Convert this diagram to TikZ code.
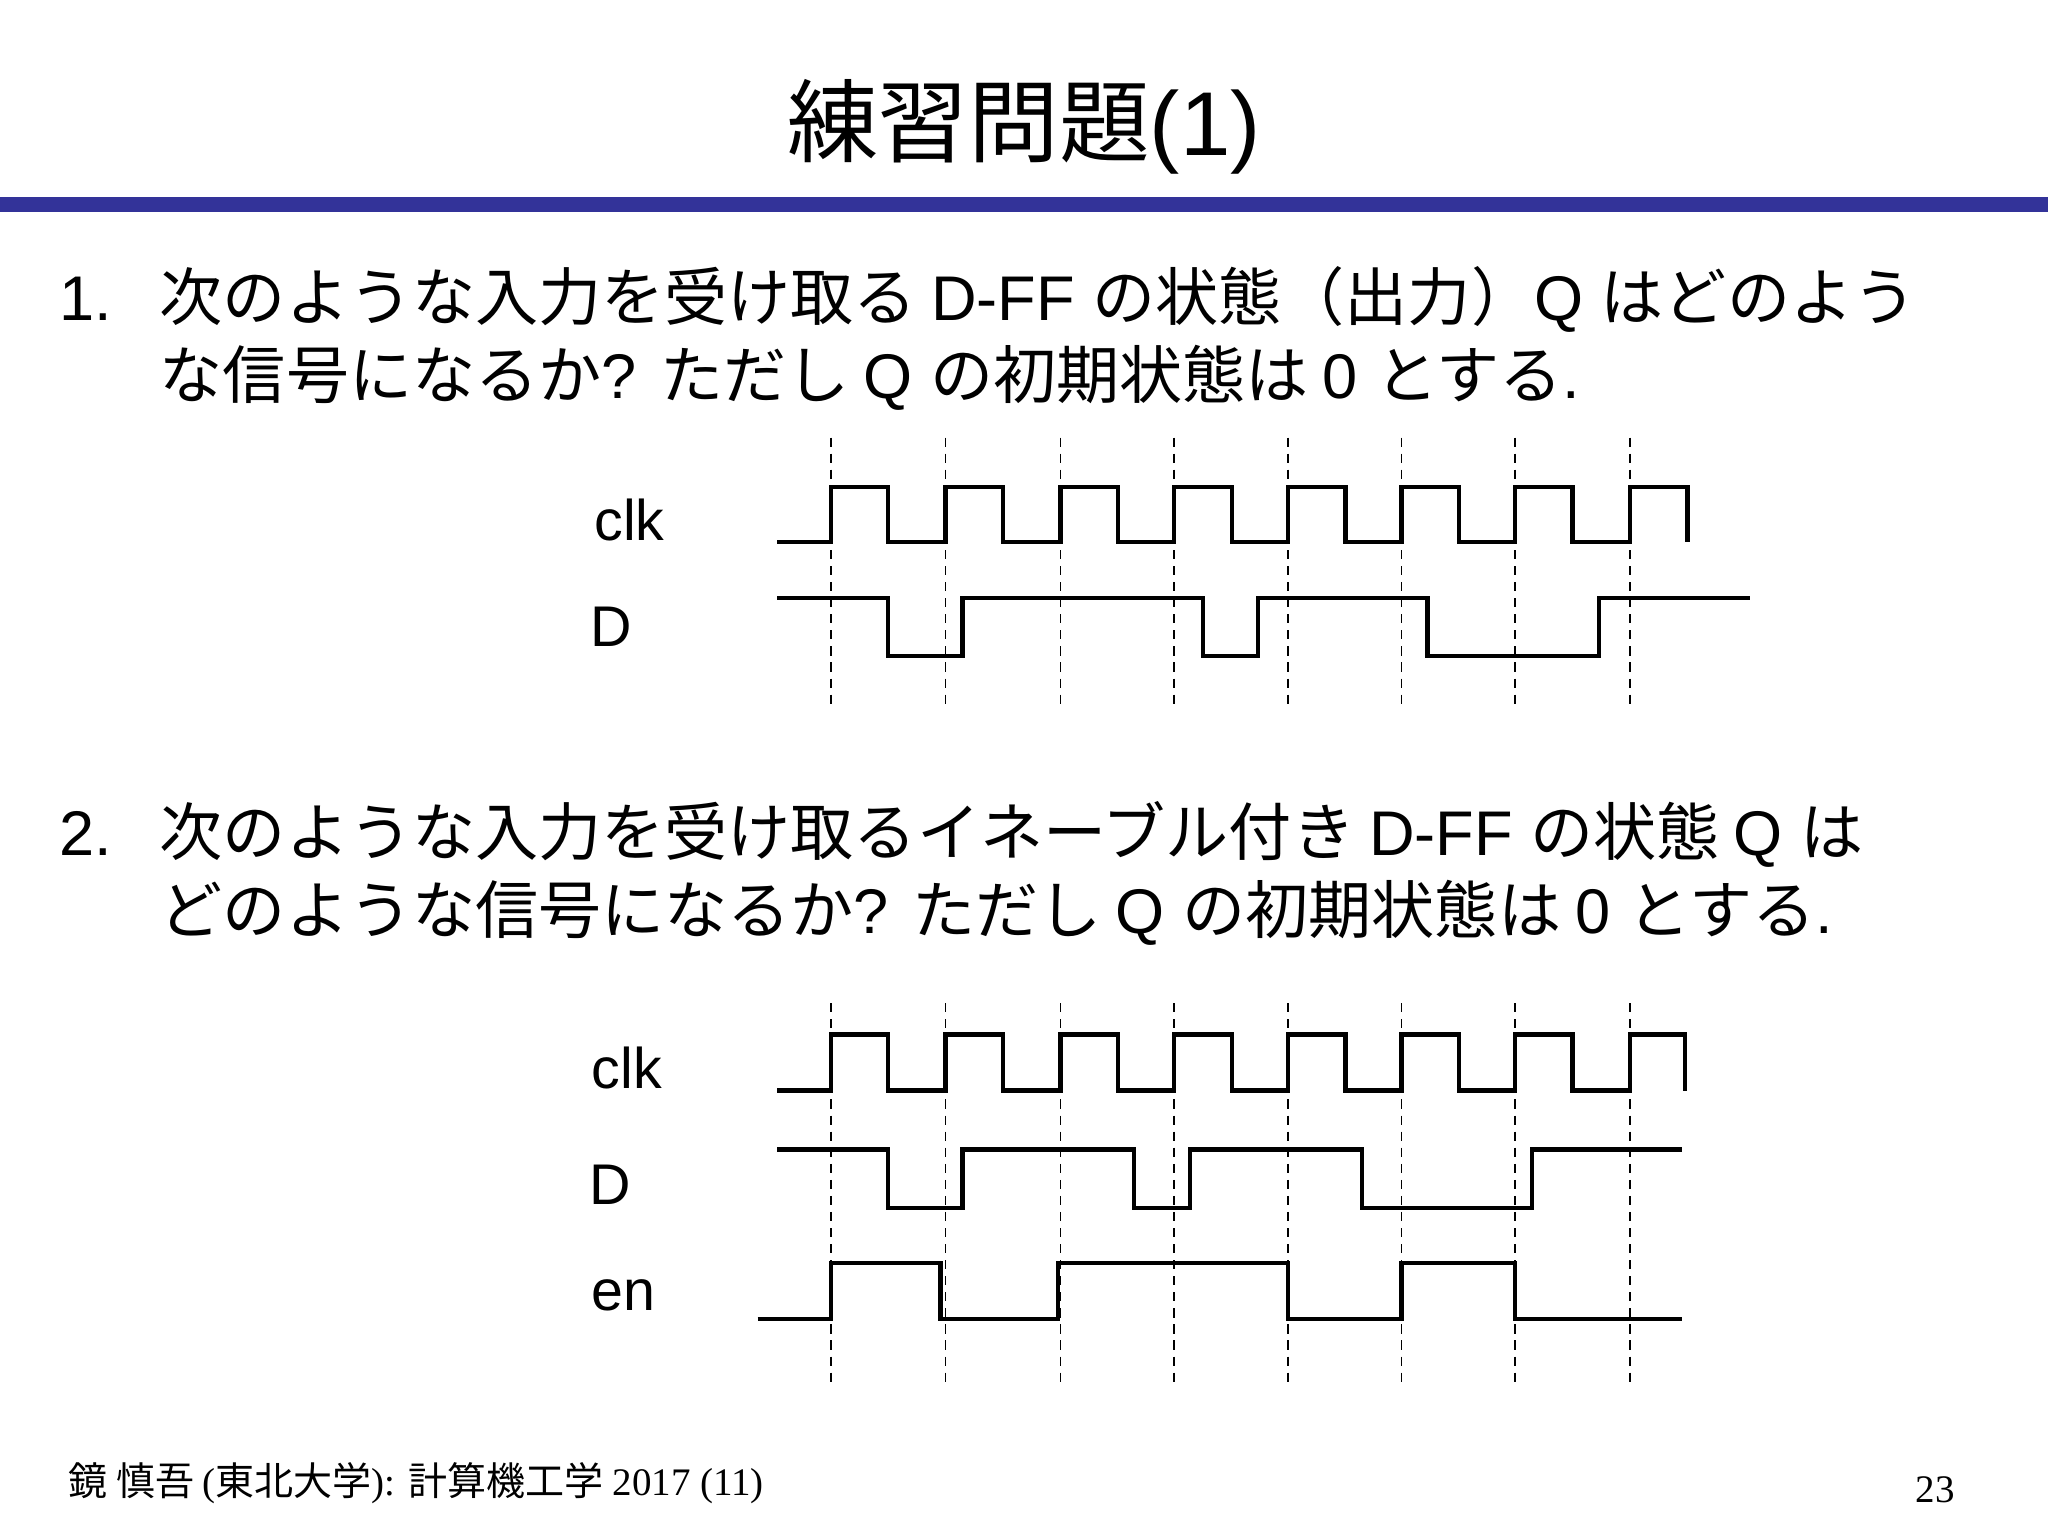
\documentclass[tikz,border=0pt]{standalone}
\usepackage{fontspec}
\setmainfont{Noto Sans CJK JP}
\newfontfamily\lat{Liberation Sans}
\newfontfamily\ser{Liberation Serif}
\begin{document}
\begin{tikzpicture}[x=0.02cm,y=-0.02cm,
  wave/.style={line width=1.9pt,line join=miter},
  grid/.style={line width=0.7pt,dash pattern=on 4pt off 3pt},
  body/.style={anchor=base west,inner sep=0,font=\fontsize{27.5}{32}\selectfont},
  lab/.style={inner sep=0,font=\lat\fontsize{25}{30}\selectfont}]
\useasboundingbox (0,0) rectangle (1568,1176);
\node[inner sep=0,font=\fontsize{39.5}{44}\selectfont] (title) at (784,97) {練習問題\lat(1)};
\fill[fill={rgb,255:red,51;green,51;blue,153}] (0,151) rectangle (1568,162);
\node[body] (n1) at (45,245) {\lat 1.};
\node[body] (t1a) at (122,245) {次のような入力を受け取る \lat D-FF \normalfont の状態（出力）\lat Q \normalfont はどのよう};
\node[body] (t1b) at (122,305) {な信号になるか\lat ? \normalfont ただし \lat Q \normalfont の初期状態は \lat 0 \normalfont とする\lat .};
\node[body] (n2) at (45,655) {\lat 2.};
\node[body] (t2a) at (122,655) {次のような入力を受け取るイネーブル付き \lat D-FF \normalfont の状態 \lat Q \normalfont は};
\node[body] (t2b) at (122,715) {どのような信号になるか\lat ? \normalfont ただし \lat Q \normalfont の初期状態は \lat 0 \normalfont とする\lat .};
% problem 1
\node[lab] (c1) at (482,398) {clk};
\node[lab] (d1) at (468,480) {D};
\foreach \x in {636,724,812,899,986,1073,1160,1248} \draw[grid] (\x,335) -- (\x,540);
\draw[wave] (595,415) \foreach \r/\f in {636/680,724/768,812/856,899/943,986/1030,1073/1117,1160/1204,1248/1292}{ -- (\r,415) -- (\r,373) -- (\f,373) -- (\f,415)};
\draw[wave] (595,458) -- (680,458) -- (680,502) -- (737,502) -- (737,458) -- (921,458) -- (921,502) -- (963,502) -- (963,458) -- (1093,458) -- (1093,502) -- (1224,502) -- (1224,458) -- (1340,458);
% problem 2
\node[lab] (c2) at (480,818) {clk};
\node[lab] (d2) at (467,907) {D};
\node[lab] (e2) at (477,992) {en};
\foreach \x in {636,724,812,899,986,1073,1160,1248} \draw[grid] (\x,768) -- (\x,1058);
\draw[wave] (595,835) \foreach \r/\f in {636/680,724/768,812/856,899/943,986/1030,1073/1117,1160/1204,1248/1290}{ -- (\r,835) -- (\r,792) -- (\f,792) -- (\f,835)};
\draw[wave] (595,880) -- (680,880) -- (680,925) -- (737,925) -- (737,880) -- (868,880) -- (868,925) -- (911,925) -- (911,880) -- (1043,880) -- (1043,925) -- (1173,925) -- (1173,880) -- (1288,880);
\draw[wave] (580,1010) -- (636,1010) -- (636,967) -- (720,967) -- (720,1010) -- (810,1010) -- (810,967) -- (986,967) -- (986,1010) -- (1073,1010) -- (1073,967) -- (1160,967) -- (1160,1010) -- (1288,1010);
\node[anchor=base west,inner sep=0,font=\fontsize{17}{20}\selectfont] (foot) at (52,1145) {鏡 慎吾 \ser(\normalfont 東北大学\ser): \normalfont 計算機工学 \ser 2017 (11)};
\node[anchor=base east,inner sep=0,font=\ser\fontsize{17}{20}\selectfont] (pg) at (1497,1150) {23};
\end{tikzpicture}
\end{document}
